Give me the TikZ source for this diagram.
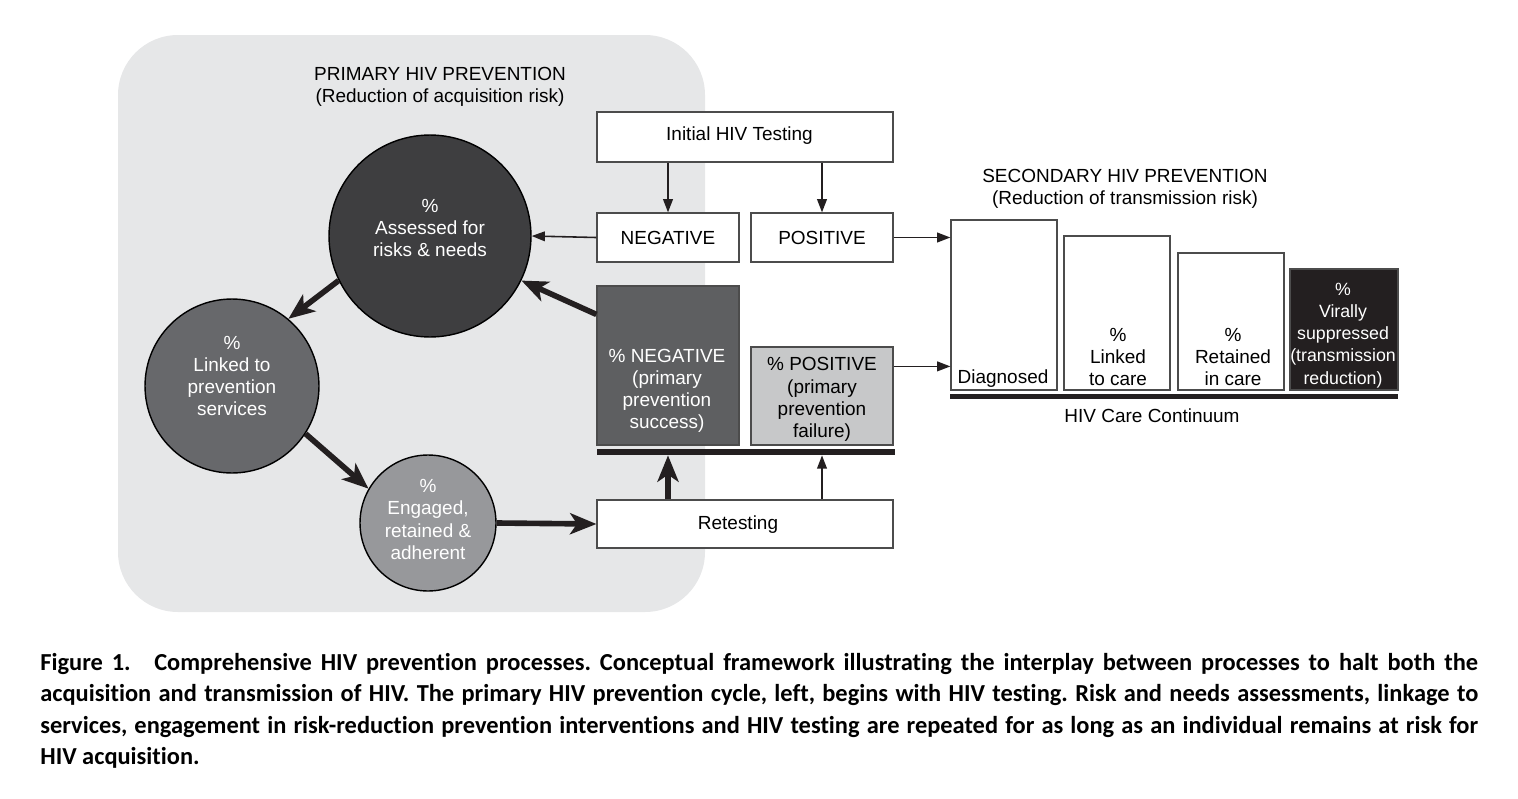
\documentclass[tikz,border=0pt]{standalone}
\usepackage{fontspec}
\setmainfont{Liberation Sans}
\newfontfamily\capfont[Ligatures=NoCommon]{Carlito}
\usetikzlibrary{arrows.meta,calc}
\definecolor{bgGray}{HTML}{E6E7E8}
\definecolor{cDark}{HTML}{3E3E40}
\definecolor{cMid}{HTML}{67686B}
\definecolor{cLight}{HTML}{97989B}
\definecolor{negGray}{HTML}{5E5F61}
\definecolor{posGray}{HTML}{C7C8C9}
\definecolor{nearBlack}{HTML}{231F20}
\newcommand{\txtfont}{\fontsize{10.8}{12.6}\selectfont}
\tikzset{
  box/.style={draw=black!70, line width=0.7pt, fill=white, inner sep=0pt, font=\txtfont, align=center},
  circ/.style={circle, draw=black, line width=0.8pt, inner sep=0pt},
  wtxt/.style={text=white, font=\txtfont, align=center, inner sep=0pt},
  btxt/.style={text=black, font=\txtfont, align=center, inner sep=0pt},
  thinarrow/.style={-{Triangle[length=7.5pt,width=5.5pt]}, line width=0.9pt, draw=nearBlack},
  thickarrow/.style={-{Stealth[length=15pt,width=12pt,inset=4pt]}, line width=3.2pt, draw=nearBlack},
  barstyle/.style={fill=nearBlack, draw=none, inner sep=0pt, minimum height=0.12cm}
}
\begin{document}
\begin{tikzpicture}[x=0.02cm,y=-0.02cm]
\useasboundingbox (0,0) rectangle (1518,798);
% background panel
\fill[bgGray, rounded corners=1.2cm] (118,35) rectangle (705,612);
\node[btxt] (ptitle) at (440,87) {PRIMARY HIV PREVENTION\\(Reduction of acquisition risk)};
\node[btxt] (stitle) at (1125,188.5) {SECONDARY HIV PREVENTION\\(Reduction of transmission risk)};

% testing boxes
\node[box, minimum width=5.92cm, minimum height=1cm] (init) at (745,137) {};
\node[btxt] (inittxt) at (739.5,136) {Initial HIV Testing};
\node[box, minimum width=2.84cm, minimum height=0.98cm] (neg) at (668,237.5) {NEGATIVE};
\node[box, minimum width=2.84cm, minimum height=0.98cm] (pos) at (822,237.5) {POSITIVE};
\node[box, fill=negGray, minimum width=2.84cm, minimum height=3.18cm] (negres) at (668,365.5) {};
\node[wtxt] (negrestxt) at (667,391) {\% NEGATIVE\\(primary\\prevention\\success)};
\node[box, fill=posGray, minimum width=2.84cm, minimum height=1.96cm] (posres) at (822,396) {};
\node[btxt] (posrestxt) at (822,399.5) {\% POSITIVE\\(primary\\prevention\\failure)};
\node[barstyle, minimum width=5.96cm] (bar1) at (746,452) {};
\node[box, minimum width=5.92cm, minimum height=0.96cm] (retest) at (745,524) {};
\node[btxt] (retesttxt) at (738,525) {Retesting};

% circles
\node[circ, fill=cDark, minimum size=4.04cm] (assess) at (430,236) {};
\node[wtxt] (assesstxt) at (430,228) {\%\\Assessed for\\risks \& needs};
\node[circ, fill=cMid, minimum size=3.48cm] (linked) at (232,386) {};
\node[wtxt] (linkedtxt) at (232,376) {\%\\Linked to\\prevention\\services};
\node[circ, fill=cLight, minimum size=2.72cm] (engaged) at (428,523) {};
\node[wtxt] (engagedtxt) at (428,519.5) {\%\\Engaged,\\retained \&\\adherent};

% care continuum
\node[box, minimum width=2.12cm, minimum height=3.4cm] (diag) at (1004,305) {};
\node[btxt] (diagtxt) at (1003,379) {Diagnosed};
\node[box, minimum width=2.12cm, minimum height=3.08cm] (linkc) at (1117,313) {};
\node[btxt] (linkctxt) at (1118,357) {\%\\Linked\\to care};
\node[box, minimum width=2.12cm, minimum height=2.74cm] (retc) at (1231,321.5) {};
\node[btxt] (retctxt) at (1233,357) {\%\\Retained\\in care};
\node[box, fill=nearBlack, minimum width=2.16cm, minimum height=2.42cm] (vir) at (1344,329.5) {};
\node[wtxt, font=\fontsize{10.1}{12.6}\selectfont] (virtxt) at (1343,335.5) {\%\\Virally\\suppressed\\(transmission\\reduction)};
\node[barstyle, minimum width=8.96cm, minimum height=0.1cm] (bar2) at (1174,396.5) {};
\node[btxt] (cont) at (1152,416) {HIV Care Continuum};

% connectors
\draw[thinarrow] (init.south -| neg.north) -- (neg.north);
\draw[thinarrow] (init.south -| pos.north) -- (pos.north);
\draw[thinarrow] (neg.west) -- (assess.east);
\draw[thinarrow] (pos.east) -- (pos.east -| diag.west);
\coordinate (posout) at ($(posres.north east)+(0,20)$);
\draw[thinarrow] (posout) -- (posout -| diag.west);
\coordinate (negout) at ($(negres.north west)+(0,29)$);
\draw[thickarrow] (negout) -- (assess.-26);
\draw[thickarrow] (assess.206) -- (linked.50);
\draw[thickarrow] (linked.-33) -- (engaged.150);
\draw[thickarrow] (engaged.east) -- (retest.west);
\draw[thickarrow] (retest.north -| neg.south) -- (bar1.south -| neg.south);
\draw[thinarrow] (retest.north -| pos.south) -- (bar1.south -| pos.south);

% caption
\node[anchor=north west, inner sep=0pt, font=\capfont\bfseries\fontsize{13.9}{17.8}\selectfont] (caption) at (40,653) {\parbox{28.76cm}{\frenchspacing%
\hbox to \linewidth{Figure 1.\hspace{0.6em} Comprehensive HIV prevention processes. Conceptual framework illustrating the interplay between processes to halt both the}
\hbox to \linewidth{acquisition and transmission of HIV. The primary HIV prevention cycle, left, begins with HIV testing. Risk and needs assessments, linkage to}
\hbox to \linewidth{services, engagement in risk-reduction prevention interventions and HIV testing are repeated for as long as an individual remains at risk for}
\hbox{HIV acquisition.}}};
\end{tikzpicture}
\end{document}
